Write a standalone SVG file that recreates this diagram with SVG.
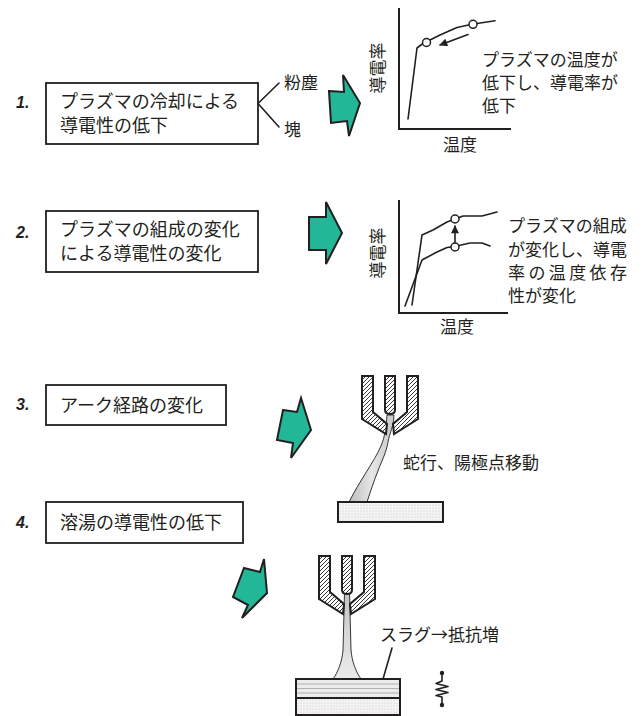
<svg xmlns="http://www.w3.org/2000/svg" width="644" height="716" viewBox="0 0 644 716">
  <style>
    .box { fill: #fff; stroke: #231f20; stroke-width: 1.8; }
    .t { font-family: "Noto Sans CJK JP", "Noto Sans", sans-serif; fill: #231f20; }
    .t18 { font-size: 18px; }
    .t17 { font-size: 17px; }
    .num { font-family: "Liberation Sans", Arial, sans-serif; font-weight: bold; font-style: italic; font-size: 16px; fill: #231f20; }
    .ln { fill: none; stroke: #231f20; stroke-width: 1.6; stroke-linejoin: round; stroke-linecap: round; }
    .axis { fill: none; stroke: #231f20; stroke-width: 2; }
    .pt { fill: #fff; stroke: #231f20; stroke-width: 1.5; }
    .bolt { fill: #22b796; stroke: #231f20; stroke-width: 2; stroke-linejoin: miter; }
    .elec { fill: url(#hatch); stroke: #231f20; stroke-width: 2; stroke-linejoin: miter; }
    .arc { stroke: #231f20; stroke-width: 0.9; }
    .work { fill: url(#dots); stroke: #231f20; stroke-width: 2; }
  </style>
  <defs>
    <pattern id="hatch" patternUnits="userSpaceOnUse" width="4" height="4">
      <rect width="4" height="4" fill="#fff"/>
      <path d="M-1,1 l2,-2 M0,4 l4,-4 M3,5 l2,-2" stroke="#231f20" stroke-width="0.9"/>
    </pattern>
    <pattern id="dots" patternUnits="userSpaceOnUse" width="3" height="3">
      <rect width="3" height="3" fill="#f4f4f4"/>
      <circle cx="1" cy="1" r="0.6" fill="#c4c4c4"/>
    </pattern>
    <linearGradient id="plasma" x1="0" y1="0" x2="1" y2="0">
      <stop offset="0" stop-color="#bdbdbd"/>
      <stop offset="0.5" stop-color="#e6e6e6"/>
      <stop offset="1" stop-color="#c8c8c8"/>
    </linearGradient>
    <linearGradient id="plasma2" x1="0" y1="0" x2="0" y2="1">
      <stop offset="0" stop-color="#c4c4c4"/>
      <stop offset="1" stop-color="#ececec"/>
    </linearGradient>
    <marker id="headBig" viewBox="0 0 10 10" refX="9" refY="5" markerWidth="9" markerHeight="8" orient="auto" markerUnits="userSpaceOnUse">
      <path d="M0,0 L10,5 L0,10 Z" fill="#231f20"/>
    </marker>
    <!-- three-part torch nozzle, origin at top centre -->
    <g id="torch">
      <path class="elec" d="M-28,0 L-17,0 L-17,36 L-3,48 L-4,58 L-28,43 Z"/>
      <path class="elec" d="M28,0 L17,0 L17,36 L3,48 L4,58 L28,43 Z"/>
      <path class="elec" d="M-5,0 L5,0 L5,34 Q5,38 0,38 Q-5,38 -5,34 Z"/>
    </g>
  </defs>

  <!-- 1. cooling of plasma -->
  <g id="item1">
    <text class="num" x="16" y="108">1.</text>
    <rect class="box" x="46" y="83" width="212" height="61"/>
    <text class="t t18" x="60" y="108">プラズマの冷却による</text>
    <text class="t t18" x="60" y="132">導電性の低下</text>
  </g>
  <g id="label-dust"><text class="t t17" x="284" y="89">粉塵</text></g>
  <g id="label-lump"><text class="t t17" x="284" y="136">塊</text></g>

  <!-- 2. change of plasma composition -->
  <g id="item2">
    <text class="num" x="16" y="238">2.</text>
    <rect class="box" x="46" y="211" width="212" height="61"/>
    <text class="t t18" x="60" y="236">プラズマの組成の変化</text>
    <text class="t t18" x="60" y="260">による導電性の変化</text>
  </g>

  <!-- 3. arc path change -->
  <g id="item3">
    <text class="num" x="16" y="410">3.</text>
    <rect class="box" x="46" y="385" width="180" height="40"/>
    <text class="t t18" x="60" y="412">アーク経路の変化</text>
  </g>

  <!-- 4. melt conductivity drop -->
  <g id="item4">
    <text class="num" x="16" y="528">4.</text>
    <rect class="box" x="46" y="502" width="197" height="41"/>
    <text class="t t18" x="60" y="529">溶湯の導電性の低下</text>
  </g>

  <!-- block arrows -->
  <g id="bolt1"><polygon class="bolt" points="329,91 344,92 343,75 360,103 349,136 347,121 331,123"/></g>
  <g id="bolt2"><polygon class="bolt" points="309,217 326,217 326,202 342,233 326,264 326,250 309,250"/></g>
  <g id="bolt3"><polygon class="bolt" points="283,410 297,412 301,398 311,430 291,458 293,443 277,440"/></g>
  <g id="bolt4"><polygon class="bolt" points="244,568 260,572 264,559 267,593 242,618 248,605 233,597"/></g>

  <!-- graph 1: conductivity vs temperature, cooling -->
  <g id="graph1">
    <path class="axis" d="M399,8 L399,129 L511,129"/>
    <polyline class="ln" points="408,119 417,48 423,43.5"/>
    <polyline class="ln" points="430,40 440,35 457,27.5 468.5,25"/>
    <polyline class="ln" points="477,23.5 495,20.7"/>
    <circle class="pt" cx="426.5" cy="42.5" r="4"/>
    <circle class="pt" cx="473" cy="24.3" r="4"/>
    <line class="ln" x1="468" y1="34.5" x2="440" y2="45" marker-end="url(#headBig)"/>
    <text class="t t17" text-anchor="middle" transform="translate(378,68) rotate(-90)" x="0" y="6">導電率</text>
    <text class="t t17" text-anchor="middle" x="460" y="151">温度</text>
    <text class="t t17" x="482" y="66">プラズマの温度が</text>
    <text class="t t17" x="482" y="89">低下し、導電率が</text>
    <text class="t t17" x="482" y="112">低下</text>
  </g>

  <!-- graph 2: conductivity vs temperature, composition -->
  <g id="graph2">
    <path class="axis" d="M399,200 L399,313 L508,313"/>
    <polyline class="ln" points="412,305 422,235 433,230 447,222 451,220.5"/>
    <polyline class="ln" points="459,217.5 463,216 482,216 497,212"/>
    <polyline class="ln" points="405,306 422,260 437,252 447,247.5 451,247"/>
    <polyline class="ln" points="459,245.5 470,243 482,243 490,246"/>
    <circle class="pt" cx="455" cy="219" r="4"/>
    <circle class="pt" cx="455" cy="247" r="4"/>
    <line class="ln" x1="455" y1="242.5" x2="455" y2="226" marker-end="url(#headBig)"/>
    <text class="t t17" text-anchor="middle" transform="translate(378,253) rotate(-90)" x="0" y="6">導電率</text>
    <text class="t t17" text-anchor="middle" x="457" y="333">温度</text>
    <text class="t t17" x="508" y="232">プラズマの組成</text>
    <text class="t t17" x="508" y="256">が変化し、導電</text>
    <text class="t t17" x="508" y="279" textLength="119" lengthAdjust="spacing">率の温度依存</text>
    <text class="t t17" x="508" y="302">性が変化</text>
  </g>

  <!-- torch 3: meandering arc -->
  <g id="torch3">
    <path class="arc" fill="url(#plasma)" d="M387,415 C386,428 385,436 381,446 C374,462 360,480 349,502 L367,502 C372,486 378,470 384,456 C388,446 388,440 390,434 C392,428 394,422 394,415 Z"/>
    <use href="#torch" x="390" y="376"/>
    <rect class="work" x="338" y="502" width="105" height="20"/>
    <text class="t t17" x="403" y="469">蛇行、陽極点移動</text>
  </g>

  <!-- torch 4: arc onto slag-covered melt -->
  <g id="torch4">
    <path class="arc" fill="url(#plasma2)" d="M344.5,592 L343,650 C342,662 338,672 333,679 L361,679 C356,672 352,662 351,650 L349.5,592 Z"/>
    <use href="#torch" x="347" y="556"/>
    <rect class="work" x="296" y="679" width="104" height="36"/>
    <rect x="297" y="680" width="102" height="18" fill="#ececec"/>
    <path d="M297,684 H399 M297,688.5 H399 M297,693 H399" stroke="#b0b0b0" stroke-width="1.2"/>
    <path d="M296,698 H400" stroke="#231f20" stroke-width="1.8"/>
    <rect x="296" y="679" width="104" height="36" fill="none" stroke="#231f20" stroke-width="2"/>
    <text class="t t17" x="380" y="641">スラグ→抵抗増</text>
  </g>

  <!-- resistor symbol -->
  <g id="resistor">
    <polyline class="ln" stroke-width="1.3" points="442,673 442,681 436,683.5 448,686.5 436,689.5 448,692.5 436,695.5 442,697 442,705"/>
    <circle cx="442" cy="673" r="2.2" fill="#231f20"/>
    <circle cx="442" cy="705" r="2.2" fill="#231f20"/>
  </g>

  <!-- connectors -->
  <g id="connectors">
    <polyline class="ln" points="279,83 258,103.5 279,127"/>
    <line class="ln" stroke-width="1.2" x1="392" y1="648" x2="383" y2="679"/>
  </g>
</svg>
